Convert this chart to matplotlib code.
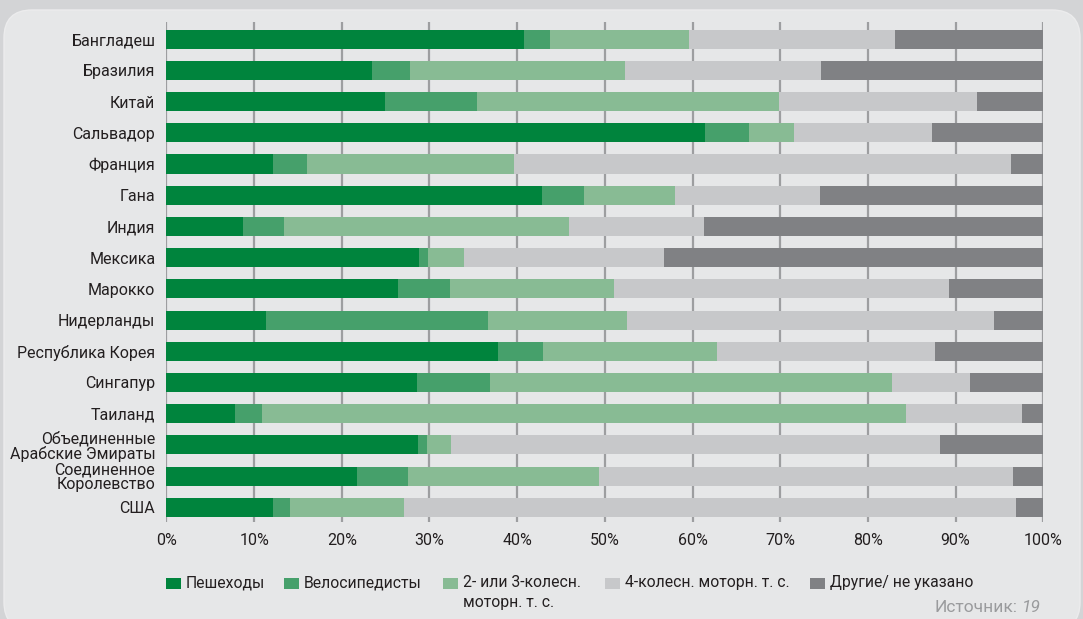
import matplotlib.pyplot as plt
import matplotlib.patches as mpatches
import numpy as np

# data (percent of road deaths by road user type)
countries = ['Бангладеш', 'Бразилия', 'Китай', 'Сальвадор', 'Франция', 'Гана',
             'Индия', 'Мексика', 'Марокко', 'Нидерланды', 'Республика Корея',
             'Сингапур', 'Таиланд', 'Объединенные\nАрабские Эмираты',
             'Соединенное\nКоролевство', 'США']
pedestrians = [40.8, 23.4, 24.9, 61.4, 12.1, 42.8, 8.7, 28.8, 26.4, 11.3, 37.8, 28.6, 7.8, 28.7, 21.7, 12.1]
cyclists = [2.9, 4.4, 10.5, 5.0, 3.9, 4.8, 4.7, 1.0, 5.9, 25.4, 5.2, 8.3, 3.1, 1.0, 5.9, 2.0]
two_three = [15.9, 24.5, 34.5, 5.2, 23.6, 10.4, 32.5, 4.1, 18.7, 15.8, 19.8, 45.9, 73.4, 2.7, 21.7, 13.0]
four_wheel = [23.5, 22.4, 22.5, 15.7, 56.7, 16.5, 15.4, 22.8, 38.3, 41.9, 24.9, 8.9, 13.3, 55.8, 47.2, 69.8]
other = [16.9, 25.3, 7.6, 12.7, 3.7, 25.5, 38.7, 43.3, 10.7, 5.6, 12.3, 8.3, 2.4, 11.8, 3.5, 3.1]

series_names = ['Пешеходы', 'Велосипедисты', '2- или 3-колесн.\nмоторн. т. с.',
                '4-колесн. моторн. т. с.', 'Другие/ не указано']
colors = ['#00843d', '#46a06b', '#88bb94', '#c7c8ca', '#808184']
x_ticks = [0, 10, 20, 30, 40, 50, 60, 70, 80, 90, 100]

plt.rcParams['font.family'] = ['Roboto', 'DejaVu Sans']
text_col = '#231f20'

fig = plt.figure(figsize=(10.83, 6.19), dpi=100)
fig.patch.set_facecolor('#d3d4d6')

# rounded panel behind everything
panel = mpatches.FancyBboxPatch((0.04 + 0.28, -0.11 + 0.28), 10.76 - 0.56, 6.20 - 0.56,
                                boxstyle='round,pad=0.28', transform=fig.dpi_scale_trans,
                                facecolor='#e6e7e8', edgecolor='#ececed', linewidth=1.0,
                                zorder=-10)
fig.patches.append(panel)

ax = fig.add_axes([0.1537, 0.1567, 0.8096, 0.8078])
ax.set_zorder(5)
ax.set_facecolor('none')

data = np.array([pedestrians, cyclists, two_three, four_wheel, other])
y = np.arange(len(countries))
left = np.zeros(len(countries))
for vals, c in zip(data, colors):
    ax.barh(y, vals, left=left, height=0.61, color=c, zorder=3)
    left = left + vals

ax.set_xlim(0, 100)
ax.set_ylim(15.47, -0.55)
ax.set_xticks(x_ticks)
ax.set_xticklabels([f'{t}%' for t in x_ticks], fontsize=11.5, color=text_col)
ax.set_yticks(y)
ax.set_yticklabels(countries, fontsize=11.5, color=text_col, linespacing=0.95)
ax.tick_params(axis='both', length=0)
ax.tick_params(axis='y', pad=8)
ax.tick_params(axis='x', pad=8)
ax.grid(axis='x', color='#9d9ea0', linewidth=1.6, zorder=1)
for s in ax.spines.values():
    s.set_visible(False)

# legend, drawn by hand
leg_x = [166, 284, 443, 605, 810]
for lx, name, c in zip(leg_x, series_names, colors):
    fig.patches.append(mpatches.Rectangle((lx / 1083, 1 - 589 / 619), 15 / 1083, 11 / 619,
                                          transform=fig.transFigure, facecolor=c,
                                          edgecolor='none', zorder=2))
    fig.text((lx + 20) / 1083, 1 - 575 / 619, name, fontsize=11.3, color=text_col,
             va='top', ha='left', linespacing=1.45)

fig.text(1017 / 1083, 1 - 608 / 619, 'Источник:', fontsize=12.5, color='#9a9b9d',
         ha='right', va='center')
fig.text(1022 / 1083, 1 - 608 / 619, '19', fontsize=12.5, color='#9a9b9d', style='italic',
         ha='left', va='center')

fig.savefig('out.png', dpi=100, facecolor=fig.get_facecolor())
